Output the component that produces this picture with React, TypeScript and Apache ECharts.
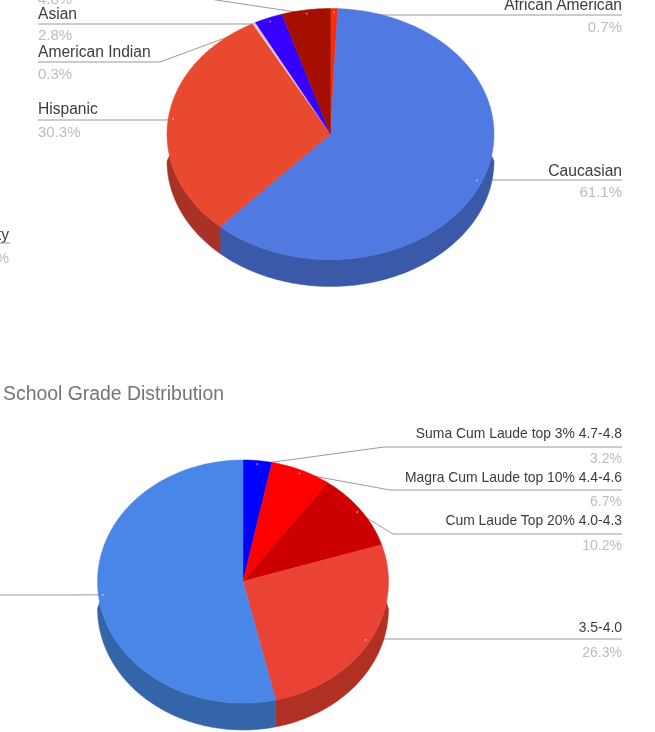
import React, { useEffect, useRef } from "react";
import * as echarts from "echarts";

// ---- data ----
const ethnicityNames = ["African American", "Caucasian", "Hispanic", "American Indian", "Asian", ""];
const ethnicityValues = [0.7, 61.1, 30.3, 0.3, 2.8, 4.8];
const ethnicityColors = ["#ff2a00", "#5079e2", "#e9492e", "#e8c4cc", "#3500ff", "#a50f00"];
const ethnicitySides = ["#b01e00", "#3a5aa9", "#a93226", "#a08890", "#2500b0", "#750a00"];

const gradeNames = [
  "Suma Cum Laude top 3% 4.7-4.8",
  "Magra Cum Laude top 10% 4.4-4.6",
  "Cum Laude Top 20% 4.0-4.3",
  "3.5-4.0",
  "",
];
const gradeValues = [3.2, 6.7, 10.2, 26.3, 53.6];
const gradeColors = ["#0000ff", "#ff0000", "#cc0000", "#ea4335", "#4a86e8"];
const gradeSides = ["#0000b2", "#b20000", "#8e0000", "#b03024", "#3465a8"];

const gradeTitle = "School Grade Distribution";

// ---- layout: geometry of each pie and each label's place ----
type Label = { side: "l" | "r"; x: number; lineEnd: number; lineY: number; nameY: number; pctY: number };

const ethnicityPie = { cx: 330.5, cy: 134, rx: 163.5, ry: 125.5, depth: 27, nameFont: 15.6, pctFont: 15 };
const ethnicityLabels: Label[] = [
  { side: "r", x: 622, lineEnd: 352, lineY: 15, nameY: 4, pctY: 26 },
  { side: "r", x: 622, lineEnd: 495, lineY: 180, nameY: 170, pctY: 191 },
  { side: "l", x: 38, lineEnd: 166, lineY: 120, nameY: 108, pctY: 131 },
  { side: "l", x: 38, lineEnd: 160, lineY: 62, nameY: 51, pctY: 73 },
  { side: "l", x: 38, lineEnd: 255, lineY: 24, nameY: 13, pctY: 34 },
  { side: "l", x: 38, lineEnd: 183, lineY: -5, nameY: -22, pctY: -2 },
];

const gradePie = { cx: 243, cy: 581.5, rx: 145.5, ry: 121.5, depth: 27, nameFont: 13.9, pctFont: 14 };
const gradeLabels: Label[] = [
  { side: "r", x: 622, lineEnd: 384, lineY: 447, nameY: 433, pctY: 458 },
  { side: "r", x: 622, lineEnd: 390, lineY: 490, nameY: 477, pctY: 501 },
  { side: "r", x: 622, lineEnd: 393, lineY: 534, nameY: 520, pctY: 545 },
  { side: "r", x: 622, lineEnd: 380, lineY: 639, nameY: 627, pctY: 652 },
  { side: "l", x: -60, lineEnd: 60, lineY: 595, nameY: 583, pctY: 608 },
];

const RAD = Math.PI / 180;

function pt(p: any, deg: number, k = 1, dy = 0): number[] {
  return [p.cx + p.rx * k * Math.sin(deg * RAD), p.cy - p.ry * k * Math.cos(deg * RAD) + dy];
}

function arc(p: any, a0: number, a1: number, dy = 0): number[][] {
  const out: number[][] = [];
  const n = Math.max(1, Math.ceil((a1 - a0) / 0.75));
  for (let i = 0; i <= n; i++) out.push(pt(p, a0 + ((a1 - a0) * i) / n, 1, dy));
  return out;
}

function span(values: number[], i: number): [number, number] {
  const total = values.reduce((s, v) => s + v, 0);
  const before = values.slice(0, i).reduce((s, v) => s + v, 0);
  return [(before / total) * 360, ((before + values[i]) / total) * 360];
}

function pieSeries(
  p: any,
  names: string[],
  values: number[],
  colors: string[],
  sides: string[],
  labels: Label[]
): any[] {
  const data = values.map((value, i) => ({ value, name: names[i] || "" }));
  const leaders = {
    type: "custom",
    coordinateSystem: "none",
    silent: true,
    z: 1,
    data,
    renderItem: (params: any) => {
      const i = params.dataIndex;
      const l = labels[i];
      const [a0, a1] = span(values, i);
      const anchor = pt(p, (a0 + a1) / 2, 0.97);
      return {
        type: "polyline",
        shape: { points: [anchor, [l.lineEnd, l.lineY], [l.x, l.lineY]] },
        style: { stroke: "#9a9a9a", lineWidth: 1, fill: "none" },
      };
    },
  };
  const walls = {
    type: "custom",
    coordinateSystem: "none",
    silent: true,
    z: 2,
    data,
    renderItem: (params: any) => {
      const i = params.dataIndex;
      const [a0, a1] = span(values, i);
      const s = Math.max(a0, 90);
      const e = Math.min(a1, 270);
      if (e <= s) return { type: "group", children: [] };
      // the wall meets the top face a little below the ellipse's widest point
      const topEdge = arc(p, Math.max(a0, 100), Math.min(a1, 260));
      const lowEdge = arc(p, s, e, p.depth).reverse();
      return {
        type: "polygon",
        shape: { points: topEdge.concat(lowEdge) },
        style: { fill: sides[i], stroke: sides[i], lineWidth: 0.5 },
      };
    },
  };
  const tops = {
    type: "custom",
    coordinateSystem: "none",
    silent: true,
    z: 3,
    data,
    renderItem: (params: any) => {
      const i = params.dataIndex;
      const [a0, a1] = span(values, i);
      const anchor = pt(p, (a0 + a1) / 2, 0.97);
      return {
        type: "group",
        children: [
          {
            type: "polygon",
            shape: { points: [[p.cx, p.cy] as number[]].concat(arc(p, a0, a1)) },
            style: { fill: colors[i], stroke: colors[i], lineWidth: 0.5 },
          },
          {
            type: "circle",
            shape: { cx: anchor[0], cy: anchor[1], r: 1 },
            style: { fill: "#ffffff", opacity: 0.45 },
          },
        ],
      };
    },
  };
  const texts = {
    type: "custom",
    coordinateSystem: "none",
    silent: true,
    z: 4,
    data,
    renderItem: (params: any) => {
      const i = params.dataIndex;
      const l = labels[i];
      const align = l.side === "r" ? "right" : "left";
      const base = { x: l.x, textAlign: align, textVerticalAlign: "middle", align, verticalAlign: "middle" };
      return {
        type: "group",
        children: [
          {
            type: "text",
            style: { ...base, y: l.nameY, text: names[i], fill: "#3c3c3c", font: `${p.nameFont}px "Liberation Sans"` },
          },
          {
            type: "text",
            style: { ...base, y: l.pctY, text: `${values[i]}%`, fill: "#bcbcbc", font: `${p.pctFont}px "Liberation Sans"` },
          },
        ],
      };
    },
  };
  return [leaders, walls, tops, texts];
}

export default function App() {
  const ref = useRef<HTMLDivElement>(null);
  useEffect(() => {
    const chart = echarts.init(ref.current!, undefined, { renderer: "svg" });
    chart.setOption({
      animation: false,
      backgroundColor: "#ffffff",
      title: {
        text: gradeTitle,
        left: 3,
        top: 383,
        padding: 0,
        textStyle: { color: "#757575", fontSize: 19.4, fontWeight: "normal", fontFamily: "Liberation Sans" },
      },
      graphic: [
        { type: "text", style: { x: 9, y: 234, text: "ty", align: "right", verticalAlign: "middle", fill: "#3c3c3c", font: '15.6px "Liberation Sans"' } },
        { type: "line", shape: { x1: 0, y1: 243, x2: 10, y2: 243 }, style: { stroke: "#9a9a9a", lineWidth: 1 } },
        { type: "text", style: { x: 9, y: 257, text: "%", align: "right", verticalAlign: "middle", fill: "#bcbcbc", font: '15px "Liberation Sans"' } },
      ],
      series: [
        ...pieSeries(ethnicityPie, ethnicityNames, ethnicityValues, ethnicityColors, ethnicitySides, ethnicityLabels),
        ...pieSeries(gradePie, gradeNames, gradeValues, gradeColors, gradeSides, gradeLabels),
      ],
    });
    return () => chart.dispose();
  }, []);
  return (
    <div
      ref={ref}
      style={{ position: "absolute", left: 0, top: 0, width: 655, height: 732, overflow: "hidden", filter: "blur(0.6px)" }}
    />
  );
}
